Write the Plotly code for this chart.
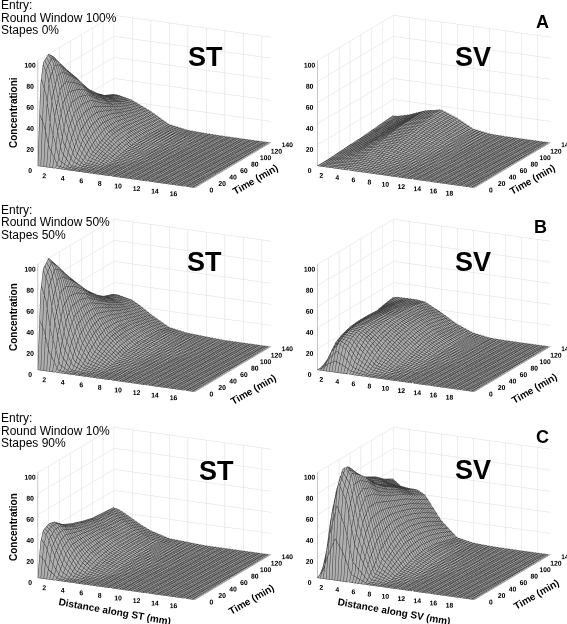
import plotly.graph_objects as go

T = [0, 5, 10, 20, 30, 45, 60, 80, 100, 120, 140]
X_ST = [0, 0.5, 1, 2, 3, 4, 6, 8, 10, 12, 14, 17]
X_SV = [0, 0.5, 1, 2, 3, 4, 6, 8, 10, 12, 14, 16, 19.6]

A_ST = [
 [0,0,0,0,0,0,0,0,0,0,0,0],
 [75,59,29,2,0,0,0,0,0,0,0,0],
 [95,85,59,14,1,0,0,0,0,0,0,0],
 [100,94,79,39,12,2,0,0,0,0,0,0],
 [94,90,80,50,23,8,0,0,0,0,0,0],
 [80,78,72,52,31,14,2,0,0,0,0,0],
 [68,67,63,50,33,19,4,1,0,0,0,0],
 [51,50,48,40,30,20,6,1,0,0,0,0],
 [39,39,37,32,25,18,6,2,0,0,0,0],
 [30,30,29,26,21,16,5,2,0.5,0,0,0],
 [25,25,24,22,18,14,4,1,0.3,0,0,0],
]
B_ST = [
 [0,0,0,0,0,0,0,0,0,0,0,0],
 [72,57,28,2,0,0,0,0,0,0,0,0],
 [93,83,58,14,1,0,0,0,0,0,0,0],
 [100,94,79,39,12,3,0,0,0,0,0,0],
 [92,89,79,50,24,9,1,0,0,0,0,0],
 [79,77,72,53,33,17,3,1,0,0,0,0],
 [67,66,63,51,36,22,6,1,0,0,0,0],
 [53,52,50,43,33,23,8,2,0,0,0,0],
 [41,41,40,35,28,21,9,3,1,0,0,0],
 [33,33,32,29,24,18,8,3,1,0,0,0],
 [29,29,28,26,21,15,5,2,1,0,0,0],
]
C_ST = [
 [0,0,0,0,0,0,0,0,0,0,0,0],
 [32,25,12,1,0,0,0,0,0,0,0,0],
 [42,37,26,6,0,0,0,0,0,0,0,0],
 [45,42,35,18,5,1,0,0,0,0,0,0],
 [44,42,37,23,11,4,0,0,0,0,0,0],
 [37,36,33,24,15,7,1,0,0,0,0,0],
 [33,32,30,24,16,9,2,0,0,0,0,0],
 [29,29,27,23,17,11,3,1,0,0,0,0],
 [26,26,25,21,16,11,4,1,0,0,0,0],
 [25,25,24,20,15,10,4,1,0,0,0,0],
 [24,23,21,16,11,7,2,1,0,0,0,0],
]
A_SV = [
 [0,0,0,0,0,0,0,0,0,0,0,0,0],
 [0,0,0,0.5,1,1,0.5,0,0,0,0,0,0],
 [0,0,0.5,1,1.5,2,1,0.5,0,0,0,0,0],
 [0,0.5,1,2,3,3.5,2.5,1,0.5,0,0,0,0],
 [0.5,1,1.5,3,4.5,5.5,4,2,0.5,0,0,0,0],
 [1,1.5,2,4,6.5,8,7,3.5,1,0,0,0,0],
 [1.5,2,3,5,8,10,9.5,5,1.5,0.5,0,0,0],
 [2,3,4,6,9,12,12,7,2,0.5,0,0,0],
 [3,3.5,5,7,10,13.5,14.5,9,3,0.5,0,0,0],
 [4,4.5,5.5,7.5,10.5,14,16,10,3,0.5,0,0,0],
 [5,5,6,8,11,14,17,11,3,0.5,0,0,0],
]
B_SV = [
 [0,0,0,0,0,0,0,0,0,0,0,0,0],
 [0,2,8,15,10,3,0,0,0,0,0,0,0],
 [1,6,15,25,20,9,1,0,0,0,0,0,0],
 [4,12,22,28,27,19,5,1,0,0,0,0,0],
 [7,16,25,31,30,25,10,2,0,0,0,0,0],
 [11,20,28,32,32,28,16,5,1,0,0,0,0],
 [14,22,29,32,32,30,20,8,2,0,0,0,0],
 [18,24,29,31,32,31,23,12,3,1,0,0,0],
 [21,25,28,30,31,30,24,13,4,1,0,0,0],
 [24,26,27,29,29,29,22,11,4,1,0,0,0],
 [26,27,27,27,27,26,18,9,3,0.5,0,0,0],
]
C_SV = [
 [0,0,0,0,0,0,0,0,0,0,0,0,0],
 [2,10,30,60,40,10,0,0,0,0,0,0,0],
 [6,25,55,92,75,35,2,0,0,0,0,0,0],
 [18,45,78,103,95,62,8,1,0,0,0,0,0],
 [30,58,85,98,92,72,18,3,0,0,0,0,0],
 [48,72,85,86,85,70,27,6,1,0,0,0,0],
 [62,78,80,77,74,64,33,9,2,0,0,0,0],
 [68,72,72,67,65,58,33,11,3,1,0,0,0],
 [64,66,64,60,58,53,30,10,3,1,0,0,0],
 [57,57,54,52,50,46,25,7,2,0.5,0,0,0],
 [51,48,45,44,44,40,18,4,1,0.3,0,0,0],
]

X_TICKS_ST = [2, 4, 6, 8, 10, 12, 14, 16]
X_TICKS_SV = [2, 4, 6, 8, 10, 12, 14, 16, 18]
T_TICKS = [0, 20, 40, 60, 80, 100, 120, 140]
Z_TICKS = [0, 20, 40, 60, 80, 100]

FONT = "Liberation Sans"
W, H = 567, 624
PAD = "\u00a0" * 10

panels = [
    ("scene",  X_ST, A_ST, X_TICKS_ST, (0, 309),   (0, 203)),
    ("scene2", X_SV, A_SV, X_TICKS_SV, (301, 567), (0, 203)),
    ("scene3", X_ST, B_ST, X_TICKS_ST, (0, 309),   (204, 407)),
    ("scene4", X_SV, B_SV, X_TICKS_SV, (301, 567), (204, 407)),
    ("scene5", X_ST, C_ST, X_TICKS_ST, (0, 309),   (412, 615)),
    ("scene6", X_SV, C_SV, X_TICKS_SV, (301, 567), (412, 615)),
]

fig = go.Figure()
axis_common = dict(showbackground=False, gridcolor="#dcdcdc", gridwidth=1, showline=True,
                   linecolor="#8c8c8c", linewidth=1, zeroline=False, showspikes=False, tickangle=0,
                   title=dict(text=""),
                   tickfont=dict(family=FONT, size=9, color="black", weight="bold"))
INVISIBLE = "rgba(255,255,255,0)"
R = 1.34
S = 1.72

for name, xs, zs, xt, dx, dy in panels:
    fig.add_trace(go.Surface(
        x=xs, y=T, z=zs, scene=name, showscale=False, cmin=0, cmax=1, surfacecolor=[[0.5]*len(xs)]*len(T),
        colorscale=[[0, "#f2f2f2"], [1, "#f2f2f2"]],
        lighting=dict(ambient=0.72, diffuse=0.35, specular=0, roughness=1, fresnel=0),
        lightposition=dict(x=1000, y=-4000, z=300),
        contours=dict(
            x=dict(show=True, start=xs[0], end=xs[-1], size=xs[-1]/54, color="#3c3c3c", width=1),
            y=dict(show=True, start=0, end=140, size=3.2, color="#3c3c3c", width=1),
        ),
        hoverinfo="skip",
    ))
    fig.update_layout({name: dict(
        domain=dict(x=[dx[0]/W, dx[1]/W], y=[1-dy[1]/H, 1-dy[0]/H]),
        aspectmode="manual", aspectratio=dict(x=S, y=S, z=0.63*S),
        camera=dict(projection=dict(type="orthographic"), up=dict(x=0, y=0, z=1),
                    center=dict(x=0, y=0, z=0),
                    eye=dict(x=0.413*R, y=-0.853*R, z=0.285*R)),
        xaxis=dict(axis_common, range=[0, xs[-1]], tickmode="array", tickvals=xt, ticktext=[str(v) for v in xt],
                   ticks="outside", ticklen=4, tickcolor=INVISIBLE),
        yaxis=dict(axis_common, range=[0, 140], tickmode="array", tickvals=T_TICKS,
                   ticktext=[str(v) + PAD for v in T_TICKS], ticks=""),
        zaxis=dict(axis_common, range=[0, 100], tickmode="array", tickvals=Z_TICKS, ticktext=[str(v) for v in Z_TICKS],
                   ticks=""),
    )})

def note(text, px, py, size, bold=False, anchor="center", angle=0):
    fig.add_annotation(text=text, x=px/W, y=1-py/H, xref="paper", yref="paper", showarrow=False,
                       xanchor=anchor, yanchor="middle", xshift=-1 if anchor == "left" else 0, textangle=angle,
                       font=dict(family=FONT, size=size, color="black", weight="bold" if bold else "normal"))

ENTRY = [("Round Window 100%", "Stapes 0%", 5), ("Round Window 50%", "Stapes 50%", 210), ("Round Window 10%", "Stapes 90%", 418)]
for rw, st, y0 in ENTRY:
    note("Entry:", 0, y0, 12, anchor="left")
    note(rw, 0, y0+12.5, 12, anchor="left")
    note(st, 0, y0+25, 12, anchor="left")
for text, px, py in [("ST",205,57),("SV",473,57),("ST",204,262),("SV",473,262),("ST",216,471),("SV",473,470)]:
    note(text, px, py, 27, True)
for text, px, py in [("A",542,22),("B",540,227),("C",542,437)]:
    note(text, px, py, 18, True)
for px, py in [(255,179),(532,179),(253,389),(534,388),(251,599),(536,594)]:
    note("Time (min)", px, py, 10, True, angle=-30)
for text, py in [("Concentrationi",113),("Concentration",317),("Concentration",527)]:
    note(text, 13, py, 10, True, angle=-90)
note("Distance along ST (mm)", 115, 611, 10, True, angle=10)
note("Distance along SV (mm)", 394, 611, 10, True, angle=10)

fig.update_layout(width=W, height=H, margin=dict(l=0, r=0, t=0, b=0), paper_bgcolor="white", showlegend=False)
fig.write_html("out.html", config=dict(displayModeBar=False), post_script="document.body.style.margin='0';")
